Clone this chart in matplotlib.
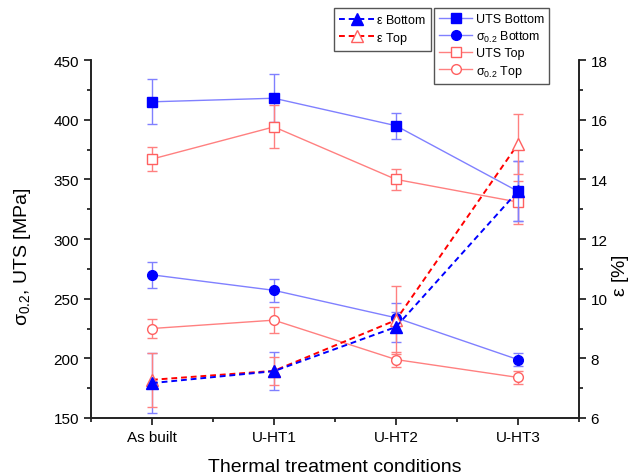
import matplotlib
matplotlib.use("Agg")
import matplotlib.pyplot as plt
import numpy as np
from matplotlib.ticker import MultipleLocator

plt.rcParams['font.family'] = ['Liberation Sans', 'DejaVu Sans']
plt.rcParams['mathtext.fontset'] = 'custom'
plt.rcParams['mathtext.rm'] = 'Liberation Sans'
plt.rcParams['mathtext.it'] = 'Liberation Sans'

conditions = ['As built', 'U-HT1', 'U-HT2', 'U-HT3']

uts_bottom = [415, 418, 395, 340]
uts_bottom_err = [19, 20, 11, 25]
uts_top = [367, 394, 350, 331]
uts_top_err = [10, 18, 9, 18]
ys_bottom = [270, 257, 234, 199]
ys_bottom_err = [11, 9.5, 12, 5.5]
ys_top = [225, 232, 199, 184]
ys_top_err = [8, 11, 6, 5.5]

eps_bottom = [7.17, 7.57, 9.05, 13.6]
eps_bottom_err = [1.0, 0.64, 0.5, 1.0]
eps_top = [7.28, 7.58, 9.28, 15.18]
eps_top_err = [0.9, 0.48, 1.15, 1.0]

BLUE = '#0000ff'
RED = '#ff0000'
LBLUE = '#8080ff'
LRED = '#ff8080'

x = np.arange(1, len(conditions) + 1)

fig = plt.figure(figsize=(6.34, 4.77), dpi=100)
ax = fig.add_axes([0.1435, 0.1216, 0.7695, 0.7504])
ax2 = ax.twinx()

# strength (left axis)
for vals, err, col in [(uts_bottom, uts_bottom_err, LBLUE), (ys_bottom, ys_bottom_err, LBLUE),
                       (uts_top, uts_top_err, LRED), (ys_top, ys_top_err, LRED)]:
    ax.errorbar(x, vals, yerr=err, fmt='none', ecolor=col, elinewidth=1, capsize=3.5, capthick=1)

h_uts_b, = ax.plot(x, uts_bottom, '-s', color=LBLUE, lw=1, mfc=BLUE, mec=BLUE, ms=7,
                   label='UTS Bottom')
h_ys_b, = ax.plot(x, ys_bottom, '-o', color=LBLUE, lw=1, mfc=BLUE, mec=BLUE, ms=7,
                  label=r'$\sigma_{0.2}$ Bottom')
h_uts_t, = ax.plot(x, uts_top, '-s', color=LRED, lw=1, mfc='white', mec='#ff6060', ms=7,
                   label='UTS Top')
h_ys_t, = ax.plot(x, ys_top, '-o', color=LRED, lw=1, mfc='white', mec='#ff6060', ms=7,
                  label=r'$\sigma_{0.2}$ Top')

# elongation (right axis)
ax2.errorbar(x, eps_bottom, yerr=eps_bottom_err, fmt='none', ecolor=LBLUE, elinewidth=1,
             capsize=3.5, capthick=1)
ax2.errorbar(x, eps_top, yerr=eps_top_err, fmt='none', ecolor=LRED, elinewidth=1,
             capsize=3.5, capthick=1)
h_eps_t, = ax2.plot(x, eps_top, '^', ls=(0, (3, 2)), color=RED, lw=1.4, mfc='white',
                    mec='#ff6060', ms=8, label=r'$\varepsilon$ Top')
h_eps_b, = ax2.plot(x, eps_bottom, '^', ls=(0, (3, 2)), color=BLUE, lw=1.4, mfc=BLUE,
                    mec=BLUE, ms=8, label=r'$\varepsilon$ Bottom')

ax.set_xlim(0.5, 4.5)
ax.set_xticks(x)
ax.set_xticklabels(conditions)
ax.xaxis.set_minor_locator(MultipleLocator(0.5))
ax.set_ylim(150, 450)
ax.yaxis.set_major_locator(MultipleLocator(50))
ax.yaxis.set_minor_locator(MultipleLocator(25))
ax2.set_ylim(6, 18)
ax2.yaxis.set_major_locator(MultipleLocator(2))
ax2.yaxis.set_minor_locator(MultipleLocator(1))

for a in (ax, ax2):
    a.spines['top'].set_visible(False)
    for s in a.spines.values():
        s.set_linewidth(1.2)
        s.set_color('#222222')
    a.tick_params(which='major', direction='out', length=5, width=1.1, labelsize=11)
    a.tick_params(which='minor', direction='out', length=3, width=1.1)

ax.set_xlabel('Thermal treatment conditions', fontsize=14, labelpad=10)
ax.set_ylabel(r'$\sigma_{0.2}$, UTS [MPa]', fontsize=14)
ax.yaxis.set_label_coords(-0.119, 0.4525)
ax2.set_ylabel(r'$\varepsilon$ [%]', fontsize=14)
ax2.yaxis.set_label_coords(1.0635, 0.402)

leg_kw = dict(loc='upper left', fontsize=9, fancybox=False, framealpha=1,
              edgecolor='#555555', borderpad=0.4, labelspacing=0.28,
              borderaxespad=0)
l1 = fig.legend(handles=[h_eps_b, h_eps_t], bbox_to_anchor=(0.527, 0.981),
                handlelength=2.8, handletextpad=0.15, **leg_kw)
l2 = fig.legend(handles=[h_uts_b, h_ys_b, h_uts_t, h_ys_t], bbox_to_anchor=(0.685, 0.981),
                handlelength=2.6, handletextpad=0.3, **leg_kw)

fig.savefig('out.png', dpi=100)
